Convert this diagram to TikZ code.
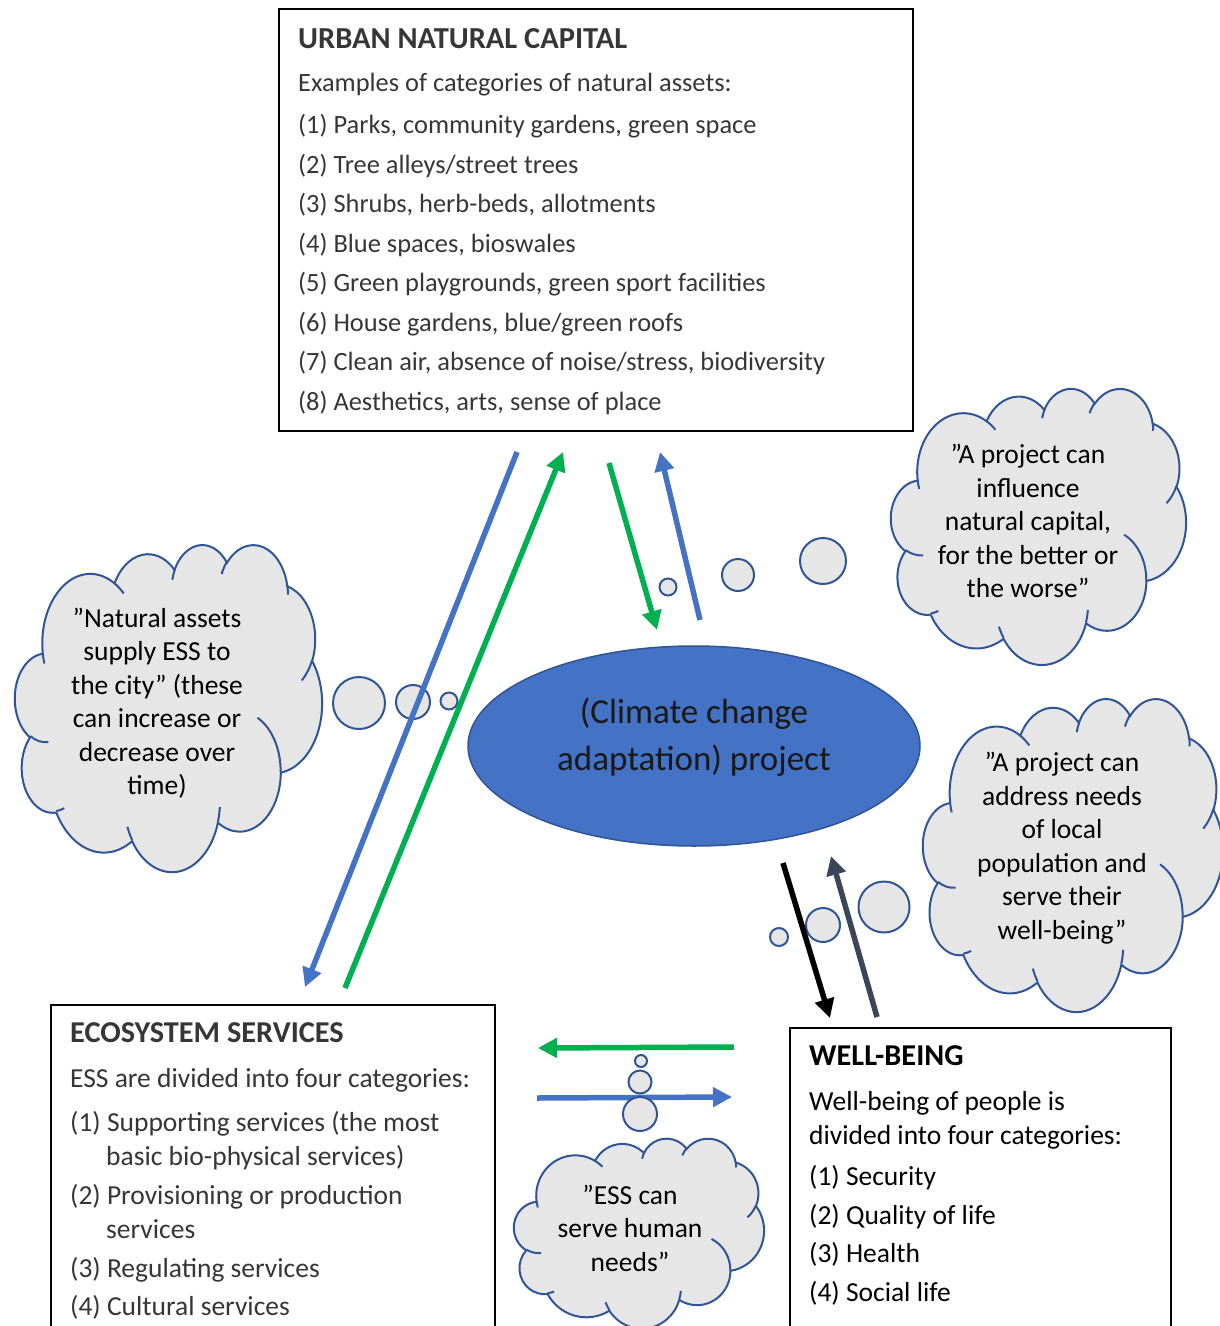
\documentclass[tikz,border=0pt]{standalone}
\usepackage{fontspec}
\setmainfont{Carlito}
\usetikzlibrary{shapes.geometric}
\usetikzlibrary{arrows.meta}

\definecolor{accblue}{HTML}{4472C4}
\definecolor{darkblue}{HTML}{2F5597}
\definecolor{accgreen}{HTML}{00B050}
\definecolor{cloudgray}{HTML}{E7E6E6}
\definecolor{slate}{HTML}{3A4659}
\definecolor{boxtext}{HTML}{363636}

% arc of a puff: start angle, sweep, radii (angles seen on the ellipse)
\tikzset{
    warc/.style n args={4}{insert path={arc[x radius=#3, y radius=#4,
        start angle={atan2(#3*sin(#1),#4*cos(#1))},
        delta angle={atan2(#3*sin(#1+#2),#4*cos(#1+#2))-atan2(#3*sin(#1),#4*cos(#1))
            +360*round((#2-atan2(#3*sin(#1+#2),#4*cos(#1+#2))+atan2(#3*sin(#1),#4*cos(#1)))/360)}]}},
    pics/thinkcloud/.style={code={
        \draw[draw=darkblue, line width=2pt, fill=cloudgray] (39.00,143.70)
            [warc={-190.4875}{123.7805}{67.53}{91.90}]
            [warc={-144.1024}{89.9452}{53.33}{72.67}]
            [warc={-145.8079}{99.7230}{43.65}{59.45}]
            [warc={-130.9861}{117.2417}{48.57}{65.95}]
            [warc={-78.7089}{109.0269}{53.33}{72.73}]
            [warc={-46.2673}{130.2690}{67.75}{92.20}]
            [warc={0.6250}{114.0333}{57.85}{78.67}]
            [warc={22.4516}{115.1726}{67.52}{92.15}]
            [warc={66.2426}{75.7110}{77.20}{105.43}]
            [warc={-274.9421}{146.7356}{43.60}{59.18}]
            [warc={-246.8285}{152.5189}{43.45}{59.45}] -- cycle;
        \draw[draw=darkblue, line width=2pt]
            (46.93,261.77) [warc={86.7420}{26.4295}{43.45}{59.45}]
            (69.28,348.99) [warc={73.6105}{11.4475}{43.60}{59.18}]
            (164.78,390.90) [warc={137.6242}{14.0811}{67.52}{92.15}]
            (288.27,347.51) [warc={6.4533}{15.9984}{67.52}{92.15}]
            (341.29,229.54) [warc={-70.2924}{70.9174}{57.85}{78.67}]
            (417.98,153.54) [warc={30.3180}{27.7515}{53.33}{72.73}]
            (383.24,54.26) [warc={-13.7443}{14.8622}{48.57}{65.95}]
            (290.78,39.52) [warc={-149.1815}{18.1954}{48.57}{65.95}]
            (221.41,47.20) [warc={-163.4943}{17.6864}{43.65}{59.45}]
            (140.00,51.92) [warc={-66.7070}{12.3194}{67.53}{91.90}]
            (41.27,157.89) [warc={157.6544}{11.8582}{67.53}{91.90}];
    }}
}

\begin{document}
\begin{tikzpicture}[x=1pt,y=-1pt,
        flow/.style={line width=5.5pt,-{Triangle[length=19pt,width=19pt]}},
        bubble/.style={circle, draw=darkblue, line width=2pt, fill=cloudgray, inner sep=0pt},
        listbox/.style={draw=black, line width=1.5pt},
        listtext/.style={anchor=base west, align=left, inner sep=0pt},
        saying/.style={align=center, inner sep=0pt, font=\fontsize{27.5}{33.5}\selectfont}]
                \clip (0,0) rectangle (1220,1326);

                % the three boxes (anchored at the baseline of their last line)
                \draw[listbox] (279,9) rectangle (913,431);
                \node[listtext, text=boxtext, font=\fontsize{26.4}{39.5}\selectfont] (unc) at (298,410)
                    {{\fontsize{30.5}{39.5}\selectfont\bfseries URBAN NATURAL CAPITAL}\\[3.5pt]
                     Examples of categories of natural assets:\\[2.5pt]
                     (1) Parks, community gardens, green space\\
                     (2) Tree alleys/street trees\\
                     (3) Shrubs, herb-beds, allotments\\
                     (4) Blue spaces, bioswales\\
                     (5) Green playgrounds, green sport facilities\\
                     (6) House gardens, blue/green roofs\\
                     (7) Clean air, absence of noise/stress, biodiversity\\
                     (8) Aesthetics, arts, sense of place};

                \draw[listbox] (51,1005) rectangle (495,1340);
                \node[listtext, text=boxtext, font=\fontsize{27.5}{34}\selectfont] (ess) at (70,1315)
                    {{\fontsize{30.3}{34}\selectfont\bfseries ECOSYSTEM SERVICES}\\[11pt]
                     ESS are divided into four categories:\\[10pt]
                     (1) Supporting services (the most\\
                     \hspace*{36pt}basic bio-physical services)\\[5pt]
                     (2) Provisioning or production\\
                     \hspace*{36pt}services\\[5pt]
                     (3) Regulating services\\[4pt]
                     (4) Cultural services};

                \draw[listbox] (790,1028) rectangle (1171,1340);
                \node[listtext, font=\fontsize{27.5}{34}\selectfont] (wb) at (809,1301)
                    {{\fontsize{30.3}{34}\selectfont\bfseries WELL-BEING}\\[11pt]
                     Well-being of people is\\
                     divided into four categories:\\[7.5pt]
                     (1) Security\\[4.5pt]
                     (2) Quality of life\\[4.5pt]
                     (3) Health\\[4.5pt]
                     (4) Social life};

                % the project
                \node[ellipse, draw=darkblue, line width=1.5pt, fill=accblue,
                    minimum width=452pt, minimum height=200pt] (proj) at (694,746) {};
                \node[align=center, inner sep=0pt, text=black!90,
                    font=\fontsize{35}{47}\selectfont] (projtext) at (694,737)
                    {(Climate change\\adaptation) project};

                % thought clouds and their bubbles
                \pic[xscale=307/432, yscale=327/432] (cl1) at (15,544) {thinkcloud};
                \node[saying] (say1) at (157,703)
                    {”Natural assets\\supply ESS to\\the city” (these\\can increase or\\decrease over\\time)};
                \node[bubble, minimum size=52pt] (b1a) at (359,703) {};
                \node[bubble, minimum size=34pt] (b1b) at (413,702) {};
                \node[bubble, minimum size=17pt] (b1c) at (449,701) {};

                \pic[xscale=295/432, yscale=276/432] (cl2) at (891,388) {thinkcloud};
                \node[saying] (say2) at (1028,521)
                    {”A project can\\influence\\natural capital,\\for the better or\\the worse”};
                \node[bubble, minimum size=46pt] (b2a) at (823,561) {};
                \node[bubble, minimum size=32pt] (b2b) at (738,575) {};
                \node[bubble, minimum size=17pt] (b2c) at (668,587) {};

                \pic[xscale=300/432, yscale=313/432] (cl3) at (923,698) {thinkcloud};
                \node[saying] (say3) at (1062,848)
                    {”A project can\\address needs\\of local\\population and\\serve their\\well-being”};
                \node[bubble, minimum size=51pt] (b3a) at (884,907) {};
                \node[bubble, minimum size=34pt] (b3b) at (823,925) {};
                \node[bubble, minimum size=18pt] (b3c) at (779,937) {};

                \pic[xscale=250/432, yscale=190/432] (cl4) at (514,1138) {thinkcloud};
                \node[saying] (say4) at (630,1228)
                    {”ESS can\\serve human\\needs”};

                % arrows
                \coordinate (nc1) at (517,452);
                \coordinate (es1) at (305,987);
                \coordinate (es2) at (345,988);
                \coordinate (nc2) at (563,452);
                \draw[flow, accblue] (nc1) -- (es1);
                \draw[flow, accgreen] (es2) -- (nc2);

                \coordinate (nc3) at (609,463);
                \coordinate (pr1) at (657,630);
                \coordinate (pr2) at (700,620);
                \coordinate (nc4) at (660,452);
                \draw[flow, accgreen] (nc3) -- (pr1);
                \draw[flow, accblue] (pr2) -- (nc4);

                \coordinate (pr3) at (783,863);
                \coordinate (wb1) at (830,1018);
                \coordinate (wb2) at (877,1017);
                \coordinate (pr4) at (831,856);
                \draw[flow, black] (pr3) -- (wb1);
                \draw[flow, slate] (wb2) -- (pr4);

                \coordinate (wb3) at (734,1047);
                \coordinate (es3) at (538,1048);
                \coordinate (es4) at (537,1098);
                \coordinate (wb4) at (732,1097);
                \draw[flow, accgreen] (wb3) -- (es3);
                \draw[flow, accblue] (es4) -- (wb4);

                % bubbles of the lower cloud lie over the arrows
                \node[bubble, minimum size=34pt] (b4a) at (640,1114) {};
                \node[bubble, minimum size=23pt] (b4b) at (640,1082) {};
                \node[bubble, minimum size=12pt] (b4c) at (641,1061) {};
            \end{tikzpicture}
\end{document}
